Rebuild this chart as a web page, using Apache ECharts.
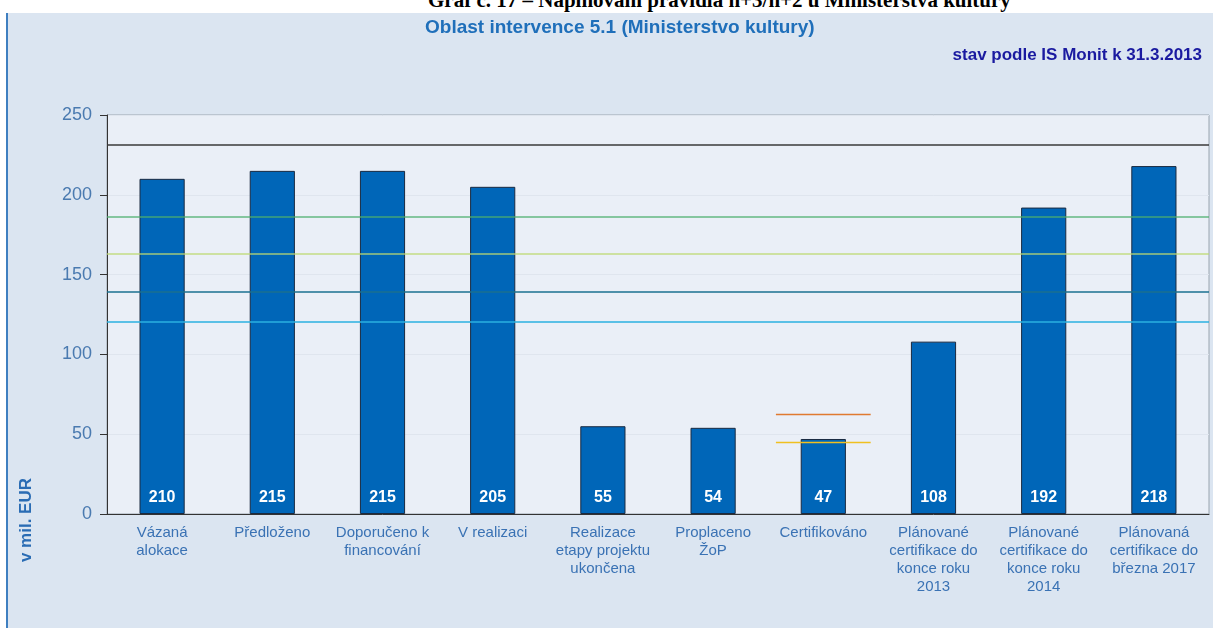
<!DOCTYPE html>
<html>
<head>
<meta charset="utf-8">
<script src="https://cdn.jsdelivr.net/npm/echarts@6/dist/echarts.min.js"></script>
<style>
  html, body { margin: 0; padding: 0; background: #fff; }
  #doc-title {
    position: absolute; left: 428px; top: -12px;
    font: bold 21px "Liberation Serif", "Times New Roman", serif;
    color: #000; white-space: nowrap; z-index: 1;
  }
  #panel {
    position: absolute; left: 6px; top: 13px; width: 1210px; height: 620px;
    background: #dbe5f1; border-left: 2px solid #3f7fc0; z-index: 2;
  }
  #chart { position: absolute; left: 0; top: 0; width: 1213px; height: 628px; z-index: 3; }
</style>
</head>
<body>
<div id="doc-title">Graf č. 17 – Naplňování pravidla n+3/n+2 u Ministerstva kultury</div>
<div id="panel"></div>
<div id="chart"></div>
<script>
const categories = [
  'Vázaná\nalokace',
  'Předloženo',
  'Doporučeno k\nfinancování',
  'V realizaci',
  'Realizace\netapy projektu\nukončena',
  'Proplaceno\nŽoP',
  'Certifikováno',
  'Plánované\ncertifikace do\nkonce roku\n2013',
  'Plánované\ncertifikace do\nkonce roku\n2014',
  'Plánovaná\ncertifikace do\nbřezna 2017'
]
const values = [210, 215, 215, 205, 55, 54, 47, 108, 192, 218]

// full-width levels drawn behind the bars
const backLevels = [231.3, 139.4, 120.6]
const backColors = ['#3a3a3a', '#1a7090', '#2ab0e0']

// full-width levels drawn over the bars
const frontLevels = [186.3, 163.1]
const frontColors = ['#4caf6c', '#bcd870']

// short levels over the "Certifikováno" category
const certIndex = 6
const certLevels = [62.4, 44.8]
const certColors = ['#e07a30', '#f0c020']

const yTicks = [0, 50, 100, 150, 200, 250]

const font = 'Arial, "Liberation Sans", sans-serif'
const chart = echarts.init(document.getElementById('chart'))

const levelLines = (levels, colors, opacity) => ({
  silent: true,
  symbol: 'none',
  label: { show: false },
  data: levels.map((v, i) => ({
    yAxis: v,
    lineStyle: { color: colors[i], width: 1.5, type: 'solid', opacity: opacity }
  }))
})

const option = {
  animation: false,
  textStyle: { fontFamily: font },
  title: [
    {
      text: 'Oblast intervence 5.1 (Ministerstvo kultury)',
      left: 420,
      top: 13,
      textStyle: { color: '#1f6fba', fontSize: 19, fontWeight: 'bold', fontFamily: font }
    },
    {
      text: 'stav podle IS Monit k 31.3.2013',
      right: 6,
      top: 42,
      textStyle: { color: '#1a1aa0', fontSize: 17, fontWeight: 'bold', fontFamily: font }
    }
  ],
  graphic: [
    {
      type: 'text',
      left: 18,
      top: 478,
      rotation: Math.PI / 2,
      style: {
        text: 'v mil. EUR',
        fill: '#2a6cb4',
        font: 'bold 17px ' + font
      }
    }
  ],
  grid: {
    left: 107,
    right: 4,
    top: 115,
    bottom: 114,
    show: true,
    backgroundColor: '#eaeff7',
    borderColor: '#9aa4ae',
    borderWidth: 1
  },
  xAxis: {
    type: 'category',
    data: categories,
    axisLine: { lineStyle: { color: '#333' } },
    axisTick: { length: 6, lineStyle: { color: '#333' } },
    axisLabel: {
      interval: 0,
      color: '#3a72b4',
      fontSize: 15,
      lineHeight: 18,
      margin: 10,
      fontFamily: font
    }
  },
  yAxis: {
    type: 'value',
    min: yTicks[0],
    max: yTicks[yTicks.length - 1],
    interval: 50,
    axisLine: { show: true, lineStyle: { color: '#333' } },
    axisTick: { show: true, length: 7, lineStyle: { color: '#333' } },
    axisLabel: { color: '#4a7ab0', fontSize: 18, margin: 15, fontFamily: font },
    splitLine: { lineStyle: { color: '#dfe5ee' } }
  },
  series: [
    {
      type: 'line',
      data: [],
      z: 1,
      markLine: levelLines(backLevels, backColors, 1)
    },
    {
      type: 'bar',
      data: values,
      z: 2,
      barWidth: '41%',
      itemStyle: { color: '#0066b8', borderColor: '#1a2a40', borderWidth: 1 },
      label: {
        show: true,
        position: 'insideBottom',
        distance: 8,
        color: '#fff',
        fontSize: 16,
        fontWeight: 'bold',
        fontFamily: font
      }
    },
    {
      type: 'line',
      data: [],
      z: 3,
      markLine: levelLines(frontLevels, frontColors, 0.85)
    },
    {
      type: 'custom',
      silent: true,
      z: 5,
      data: certLevels.map(v => [certIndex, v]),
      renderItem: (params, api) => {
        const c = api.coord([api.value(0), api.value(1)])
        const w = api.size([1, 0])[0]
        return {
          type: 'line',
          shape: { x1: c[0] - w * 0.43, y1: c[1], x2: c[0] + w * 0.43, y2: c[1] },
          style: { stroke: certColors[params.dataIndex], lineWidth: 1.5 }
        }
      }
    }
  ]
}

chart.setOption(option)
window.addEventListener('resize', () => chart.resize())
</script>
</body>
</html>
